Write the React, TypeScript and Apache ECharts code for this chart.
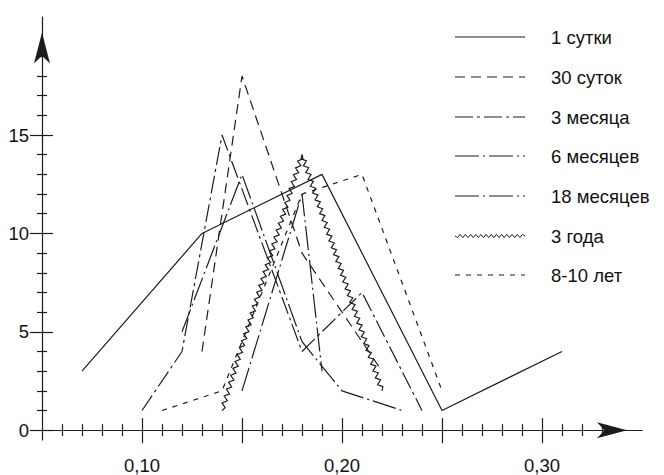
import React, { useEffect, useRef } from 'react';
import * as echarts from 'echarts';

const seriesNames = ['1 сутки', '30 суток', '3 месяца', '6 месяцев', '18 месяцев', '3 года', '8-10 лет'];

const day1 = [[0.07, 3], [0.13, 10], [0.19, 13], [0.25, 1], [0.31, 4]];
const days30 = [[0.13, 4], [0.15, 18], [0.18, 9], [0.20, 6], [0.22, 3]];
const months3 = [[0.10, 1], [0.12, 4], [0.14, 15], [0.18, 4], [0.21, 7], [0.24, 1]];
const months6 = [[0.12, 5], [0.15, 13], [0.18, 4.5], [0.20, 2], [0.23, 1]];
const months18 = [[0.15, 2], [0.18, 12], [0.19, 3]];
const years3 = [[0.14, 1], [0.18, 14], [0.22, 2]];
const years8 = [[0.11, 1], [0.14, 2], [0.18, 12], [0.21, 13], [0.25, 2]];

const xMajorTicks = [0.10, 0.15, 0.20, 0.25, 0.30];
const xMinorTicks = [0.06, 0.07, 0.08, 0.09, 0.11, 0.12, 0.13, 0.14, 0.16, 0.17, 0.18, 0.19, 0.21, 0.22, 0.23, 0.24, 0.26, 0.27, 0.28, 0.29, 0.31, 0.32, 0.33];
const xLabelValues = [0.10, 0.20, 0.30];
const yMajorTicks = [0, 5, 10, 15];
const yMinorTicks = [1, 2, 3, 4, 6, 7, 8, 9, 11, 12, 13, 14, 16, 17, 18, 19];
const yLabelValues = [0, 5, 10, 15];

const INK = '#1c1c1c';
const FONT = 'Liberation Sans, Arial, Helvetica, sans-serif';
const FS = 18.5;

function zigzag(p0: number[], p1: number[], amp: number, step: number) {
  const dx = p1[0] - p0[0];
  const dy = p1[1] - p0[1];
  const L = Math.sqrt(dx * dx + dy * dy);
  const n = Math.max(2, Math.round(L / step));
  const nx = -dy / L;
  const ny = dx / L;
  const pts: number[][] = [];
  for (let k = 0; k <= n; k++) {
    const t = k / n;
    const o = k === 0 || k === n ? 0 : (k % 2 ? amp : -amp);
    pts.push([p0[0] + dx * t + nx * o, p0[1] + dy * t + ny * o]);
  }
  return pts;
}

export default function App() {
  const ref = useRef<HTMLDivElement>(null);
  useEffect(() => {
    if (!ref.current) return;
    const chart = echarts.init(ref.current, null, { renderer: 'svg' });
    const xMin = 0.05, xMax = 0.35, yMin = -0.5, yMax = 21;
    const baseX = {
      type: 'value', min: xMin, max: xMax, position: 'bottom',
      splitLine: { show: false },
      axisLine: { show: false, onZero: true },
      axisLabel: { show: false },
    };
    const baseY = {
      type: 'value', min: yMin, max: yMax, position: 'left',
      splitLine: { show: false },
      axisLine: { show: false, onZero: false },
      axisLabel: { show: false },
    };
    const tickStyle = { color: INK, width: 1.2 };

    const lineSeries = (name: string, data: number[][], type: any) => ({
      name, type: 'line', data, symbol: 'none', silent: true,
      lineStyle: { color: INK, width: 1.2, type },
    });

    // legend
    const legendX1 = 455, legendX2 = 525, textX = 551;
    const rows = [37, 77, 117, 156, 196, 236, 275];
    const dashes: any[] = [null, [10, 6], [18, 4, 3, 4], [24, 4, 2, 4], [24, 4, 2, 4], 'wave', [5, 6]];
    const graphic: any[] = [];
    rows.forEach((y, i) => {
      const d = dashes[i];
      if (d === 'wave') {
        graphic.push({
          type: 'polyline', shape: { points: zigzag([legendX1, y], [legendX2, y], 1.6, 2.6) },
          style: { stroke: INK, fill: 'none', lineWidth: 1 }, silent: true,
        });
      } else {
        graphic.push({
          type: 'line', shape: { x1: legendX1, y1: y, x2: legendX2, y2: y },
          style: { stroke: INK, lineWidth: 1.2, lineDash: d || undefined }, silent: true,
        });
      }
      graphic.push({
        type: 'text', x: textX, y, silent: true,
        style: { text: seriesNames[i], fill: '#111', font: `${FS}px ${FONT}`, textVerticalAlign: 'middle', verticalAlign: 'middle' },
      });
    });

    chart.setOption({
      animation: false,
      grid: { left: 42, top: 17, width: 600, height: 429, containLabel: false },
      xAxis: [
        {
          ...baseX,
          axisLine: { show: true, onZero: true, symbol: ['none', 'arrow'], symbolSize: [12, 30], symbolOffset: [0, -15], lineStyle: { color: INK, width: 1.2 } },
          axisTick: { show: true, inside: false, length: 6, customValues: xMinorTicks, lineStyle: tickStyle },
          axisLabel: { show: true, customValues: xLabelValues, margin: 16, color: '#111', fontSize: FS, fontFamily: FONT, formatter: (v: number) => v.toFixed(2).replace('.', ',') },
        },
        { ...baseX, axisTick: { show: true, inside: true, length: 6, customValues: xMinorTicks, lineStyle: tickStyle } },
        { ...baseX, axisTick: { show: true, inside: false, length: 13, customValues: xMajorTicks, lineStyle: tickStyle } },
        { ...baseX, axisTick: { show: true, inside: true, length: 12, customValues: xMajorTicks, lineStyle: tickStyle } },
      ],
      yAxis: [
        {
          ...baseY,
          axisLine: { show: true, onZero: false, symbol: ['none', 'arrow'], symbolSize: [12, 31], symbolOffset: [0, -15.5], lineStyle: { color: INK, width: 1.2 } },
          axisTick: { show: true, inside: false, length: 5, customValues: yMinorTicks, lineStyle: tickStyle },
          axisLabel: { show: true, customValues: yLabelValues, margin: 13, color: '#111', fontSize: FS, fontFamily: FONT },
        },
        { ...baseY, axisTick: { show: true, inside: true, length: 5, customValues: yMinorTicks, lineStyle: tickStyle } },
        { ...baseY, axisTick: { show: true, inside: false, length: 12, customValues: yMajorTicks, lineStyle: tickStyle } },
        { ...baseY, axisTick: { show: true, inside: true, length: 11, customValues: yMajorTicks, lineStyle: tickStyle } },
      ],
      graphic,
      series: [
        lineSeries(seriesNames[0], day1, 'solid'),
        lineSeries(seriesNames[1], days30, [10, 6]),
        lineSeries(seriesNames[2], months3, [18, 4, 3, 4]),
        lineSeries(seriesNames[3], months6, [24, 4, 2, 4]),
        lineSeries(seriesNames[4], months18, [24, 4, 2, 4]),
        {
          name: seriesNames[5], type: 'custom', data: years3, silent: true,
          encode: { x: 0, y: 1 },
          renderItem: (params: any, api: any) => {
            const i = params.dataIndex;
            if (i >= years3.length - 1) return null;
            const p0 = api.coord(years3[i]);
            const p1 = api.coord(years3[i + 1]);
            return {
              type: 'polyline',
              shape: { points: zigzag(p0, p1, 2.2, 3.6) },
              style: { stroke: INK, fill: 'none', lineWidth: 1.2 },
            };
          },
        },
        lineSeries(seriesNames[6], years8, [5, 6]),
      ],
    });
    return () => chart.dispose();
  }, []);
  return <div ref={ref} style={{ position: 'absolute', left: 0, top: 0, width: 664, height: 475, background: '#fff' }} />;
}
